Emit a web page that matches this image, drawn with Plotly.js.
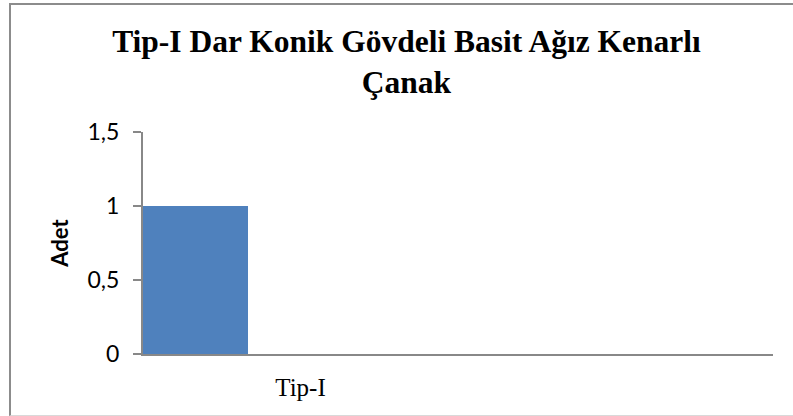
<!DOCTYPE html>
<html>
<head>
<meta charset="utf-8">
<script src="https://cdn.plot.ly/plotly-3.0.1.min.js"></script>
<style>
html,body{margin:0;padding:0;background:#fff;}
#wrap{position:relative;width:793px;height:416px;overflow:hidden;}
#frame{position:absolute;left:9px;top:3px;width:800px;height:410px;border-left:2px solid #8c8c8c;border-top:2px solid #8c8c8c;border-bottom:1px solid #d9d9d9;box-sizing:content-box;}
#chart{position:absolute;left:0;top:0;width:793px;height:416px;}
</style>
</head>
<body>
<div id="wrap"><div id="frame"></div><div id="chart"></div></div>
<script>
const categories = ["Tip-I"];
const series1 = [1];
const series2 = [0];
const series3 = [0];
const yTicks = [0, 0.5, 1, 1.5];
const titleText = "Tip-I Dar Konik Gövdeli Basit Ağız Kenarlı<br>Çanak";
const yTitle = "Adet";

const traces = [series1, series2, series3].map((vals, i) => ({
  type: "bar",
  x: categories,
  y: vals,
  marker: {color: ["#4f81bd", "#c0504d", "#9bbb59"][i]},
  showlegend: false,
  hoverinfo: "skip"
}));

const layout = {
  width: 793, height: 416,
  margin: {l: 143, r: 20, t: 132, b: 62},
  paper_bgcolor: "rgba(0,0,0,0)",
  plot_bgcolor: "rgba(0,0,0,0)",
  separators: ",.",
  barmode: "group",
  bargap: 0,
  bargroupgap: 0,
  title: {
    text: titleText,
    font: {family: "Liberation Serif", size: 31.5, color: "#000", weight: "bold"},
    x: 0.5126, xanchor: "center",
    y: 0.875, yanchor: "top", yref: "container"
  },
  xaxis: {
    type: "category",
    range: [-0.5, 1.5],
    showline: true, linecolor: "#888888", linewidth: 2,
    ticks: "", showgrid: false, zeroline: false,
    tickfont: {family: "Liberation Serif", size: 25, color: "#000"},
    ticklabelstandoff: 10
  },
  yaxis: {
    range: [0, 1.5],
    tickvals: yTicks,
    showline: true, linecolor: "#888888", linewidth: 2,
    ticks: "outside", ticklen: 8, tickcolor: "#888888", tickwidth: 2,
    showgrid: false, zeroline: false,
    tickfont: {family: "Lato", size: 23, color: "#000"},
    ticklabelstandoff: 9,
    title: {text: yTitle, font: {family: "Lato", size: 22, color: "#000", weight: "bold"}, standoff: 13}
  }
};

Plotly.newPlot("chart", traces, layout, {displayModeBar: false, staticPlot: true});
</script>
</body>
</html>
